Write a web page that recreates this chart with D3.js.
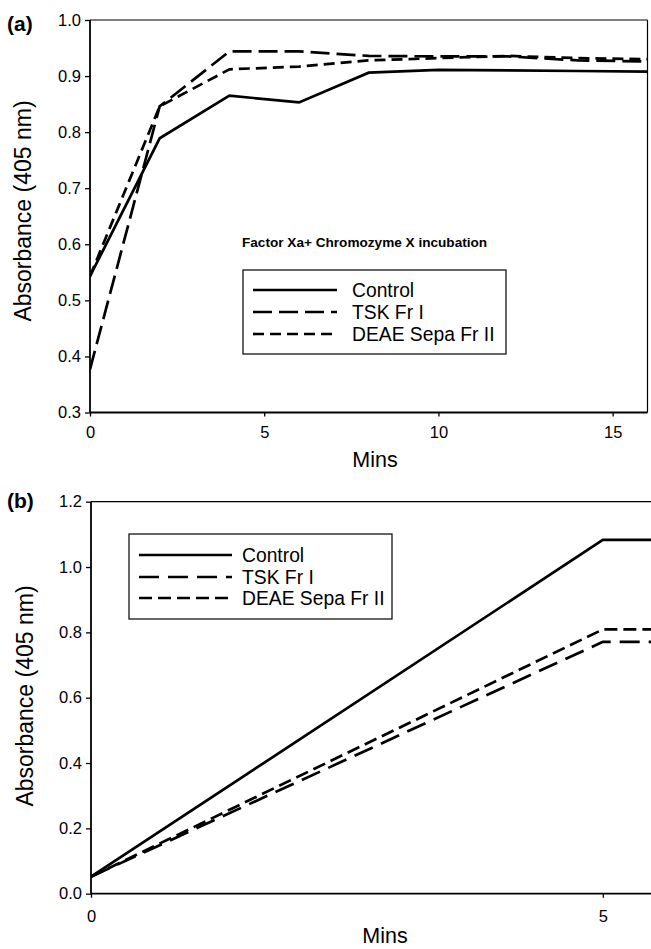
<!DOCTYPE html>
<html>
<head>
<meta charset="utf-8">
<script src="https://cdn.jsdelivr.net/npm/d3@7"></script>
<style>
  html, body { margin: 0; padding: 0; background: #fff; }
  svg { display: block; font-family: "Liberation Sans", Arial, sans-serif; }
</style>
</head>
<body>
<svg id="fig" width="651" height="949"></svg>
<script>
// Panel (a): Factor Xa + Chromozyme X incubation
const minsA = [0, 2, 4, 6, 8, 10, 12, 14, 16];
const controlA = [0.543, 0.789, 0.865, 0.853, 0.906, 0.911, 0.910, 0.909, 0.908];
const tskA     = [0.377, 0.846, 0.944, 0.944, 0.936, 0.935, 0.935, 0.928, 0.926];
const deaeA    = [0.543, 0.846, 0.912, 0.917, 0.928, 0.932, 0.936, 0.932, 0.930];
const xTicksA = [0, 5, 10, 15];
const yTicksA = [0.3, 0.4, 0.5, 0.6, 0.7, 0.8, 0.9, 1.0];

// Panel (b)
const minsB = [0, 5, 6];
const controlB = [0.052, 1.083, 1.083];
const tskB     = [0.052, 0.771, 0.771];
const deaeB    = [0.052, 0.809, 0.809];
const xTicksB = [0, 5];
const yTicksB = [0.0, 0.2, 0.4, 0.6, 0.8, 1.0, 1.2];

const seriesNames = ["Control", "TSK Fr I", "DEAE Sepa Fr II"];

const svg = d3.select("#fig");

function panel(opt) {
  const g = svg.append("g");
  const x = d3.scaleLinear().domain(opt.xDomain).range(opt.xRange);
  const y = d3.scaleLinear().domain(opt.yDomain).range(opt.yRange);
  const [x0, x1] = opt.xRange;
  const [yb, yt] = opt.yRange;

  const clipId = "clip-" + opt.id;
  svg.append("clipPath").attr("id", clipId)
    .append("rect").attr("x", x0).attr("y", yt - 5)
    .attr("width", x1 - x0 + 2).attr("height", yb - yt + 6);

  // frame: top and right border
  g.append("line").attr("x1", x0).attr("x2", Math.min(x1, 651)).attr("y1", yt).attr("y2", yt)
    .attr("stroke", "#000").attr("stroke-width", 1.2);
  if (x1 <= 651) {
    g.append("line").attr("x1", x1).attr("x2", x1).attr("y1", yt).attr("y2", yb)
      .attr("stroke", "#000").attr("stroke-width", 1.2);
  }

  // axes
  const yAxis = d3.axisLeft(y).tickValues(opt.yTicks).tickSize(5).tickPadding(4)
    .tickFormat(d3.format(".1f"));
  const gy = g.append("g").attr("transform", `translate(${x0},0)`).call(yAxis);
  const xAxis = d3.axisBottom(x).tickValues(opt.xTicks).tickSize(4).tickPadding(opt.xPad)
    .tickFormat(d3.format("d"));
  const gx = g.append("g").attr("transform", `translate(0,${yb})`).call(xAxis);
  [gx, gy].forEach(a => {
    a.select(".domain").remove();
    a.selectAll("line").attr("stroke", "#000").attr("stroke-width", 1.3);
    a.selectAll("text").attr("font-size", 16.5).attr("fill", "#000")
      .attr("font-family", "Liberation Sans, Arial, sans-serif");
  });
  g.append("line").attr("x1", x0).attr("x2", x0).attr("y1", yt).attr("y2", yb)
    .attr("stroke", "#000").attr("stroke-width", 1.8);
  g.append("line").attr("x1", x0).attr("x2", Math.min(x1, 651)).attr("y1", yb).attr("y2", yb)
    .attr("stroke", "#000").attr("stroke-width", 1.8);

  // data lines
  const series = [
    { vals: opt.control, dash: null },
    { vals: opt.tsk, dash: opt.dashTsk },
    { vals: opt.deae, dash: opt.dashDeae }
  ];
  const line = d3.line().x(d => x(d[0])).y(d => y(d[1]));
  const lg = g.append("g").attr("clip-path", `url(#${clipId})`);
  series.forEach(s => {
    lg.append("path")
      .datum(opt.mins.map((m, i) => [m, s.vals[i]]))
      .attr("d", line)
      .attr("fill", "none")
      .attr("stroke", "#000")
      .attr("stroke-width", 2.7)
      .attr("stroke-linejoin", "miter")
      .attr("stroke-dasharray", s.dash);
  });

  // legend
  const L = opt.legend;
  g.append("rect").attr("x", L.x).attr("y", L.y).attr("width", L.w).attr("height", L.h)
    .attr("fill", "#fff").attr("stroke", "#000").attr("stroke-width", 1.2);
  seriesNames.forEach((name, i) => {
    const ry = L.rowY[i];
    g.append("line").attr("x1", L.sx0).attr("x2", L.sx1).attr("y1", ry).attr("y2", ry)
      .attr("stroke", "#000").attr("stroke-width", 2.7)
      .attr("stroke-dasharray", series[i].dash);
    g.append("text").attr("x", L.tx).attr("y", ry + 7).attr("font-size", 19.3)
      .attr("fill", "#000").text(name);
  });

  // axis titles and panel tag
  g.append("text").attr("x", opt.xTitle[0]).attr("y", opt.xTitle[1])
    .attr("text-anchor", "middle").attr("font-size", 21.5).text("Mins");
  g.append("text")
    .attr("transform", `translate(${opt.yTitle[0]},${opt.yTitle[1]}) rotate(-90)`)
    .attr("text-anchor", "middle").attr("font-size", 23).text("Absorbance (405 nm)");
  g.append("text").attr("x", 7).attr("y", opt.tagY).attr("font-size", 21)
    .attr("font-weight", "bold").text(opt.tag);
  return g;
}

const gA = panel({
  id: "a", tag: "(a)", tagY: 31,
  mins: minsA, control: controlA, tsk: tskA, deae: deaeA,
  xDomain: [0, 16], xRange: [90, 647.5],
  yDomain: [0.3, 1.0], yRange: [412.5, 20],
  xTicks: xTicksA, yTicks: yTicksA, xPad: 10,
  dashTsk: "19,7", dashDeae: "11,6",
  legend: { x: 243, y: 270, w: 263, h: 84, rowY: [290, 312, 334], sx0: 253, sx1: 337, tx: 352 },
  xTitle: [375, 467], yTitle: [31, 211]
});
gA.append("text").attr("x", 242).attr("y", 247).attr("font-size", 13.6)
  .attr("font-weight", "bold").text("Factor Xa+ Chromozyme X incubation");

panel({
  id: "b", tag: "(b)", tagY: 508,
  mins: minsB, control: controlB, tsk: tskB, deae: deaeB,
  xDomain: [0, 5.5], xRange: [91, 654],
  yDomain: [0, 1.2], yRange: [893.7, 501.7],
  xTicks: xTicksB, yTicks: yTicksB, xPad: 13,
  dashTsk: "20,9", dashDeae: "13,6",
  legend: { x: 129, y: 534, w: 263, h: 85, rowY: [555, 577, 598], sx0: 139, sx1: 232, tx: 242 },
  xTitle: [385, 943], yTitle: [33, 696]
});
</script>
</body>
</html>
